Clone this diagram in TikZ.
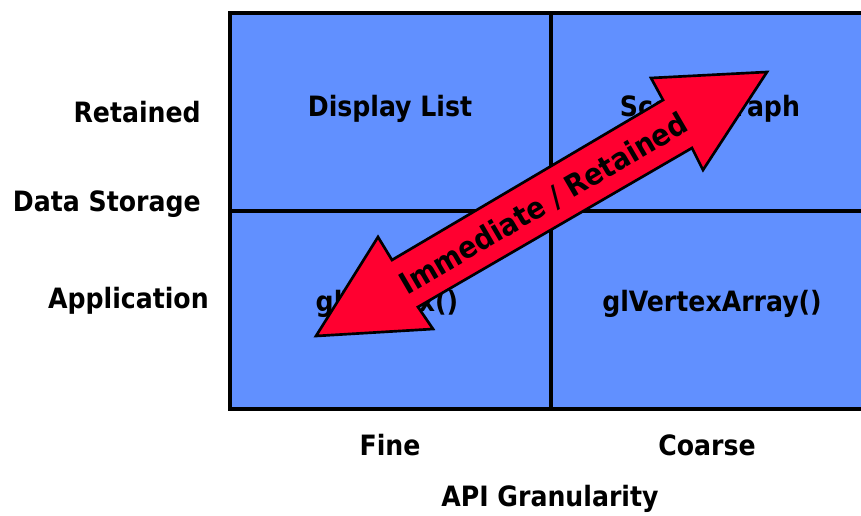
\documentclass[tikz,border=0pt]{standalone}
\usepackage{fontspec}
\setmainfont{DejaVu Sans Condensed}
\begin{document}
\begin{tikzpicture}[x=0.75pt,y=-0.75pt,
  lbl/.style={font=\fontsize{21pt}{24pt}\selectfont\bfseries, text=black, inner sep=0pt},
  grid/.style={draw=black, line width=2.4pt, fill=cellblue}]
\definecolor{cellblue}{RGB}{97,144,255}
\definecolor{arrowred}{RGB}{255,0,48}
\useasboundingbox (0,0) rectangle (861,516);
\begin{scope}
\clip (0,0) rectangle (861,516);
\draw[grid] (230,13) rectangle (880,409);
\draw[black, line width=2.4pt] (551,13) -- (551,409);
\draw[black, line width=2.4pt] (230,211) -- (880,211);
\end{scope}
% row/column labels
\node[lbl, anchor=east] (ret) at (201,112) {Retained};
\node[lbl, anchor=east] (ds) at (201,204) {Data Storage};
\node[lbl, anchor=east] (app) at (209,301) {Application};
\node[lbl] (fine) at (390,445) {Fine};
\node[lbl] (coarse) at (707,445) {Coarse};
\node[lbl] (api) at (550,499) {API Granularity};
% cell texts
\node[lbl] (dl) at (390,109) {Display List};
\node[lbl] (sg) at (710,109) {Scene Graph};
\node[lbl] (gv) at (387,304) {glVertex()};
\node[lbl] (gva) at (712,304) {glVertexArray()};
% double arrow
\draw[fill=arrowred, draw=black, line width=2pt, line join=miter]
  (316,336) -- (378,237) -- (392,260) -- (663,100) -- (651,78) -- (767,72)
  -- (703,170) -- (692,148) -- (418,307) -- (433,329) -- cycle;
\node[lbl, font=\fontsize{22.5pt}{26pt}\selectfont\bfseries, rotate=30.3] (ir) at (544,204) {Immediate / Retained};
\end{tikzpicture}
\end{document}
